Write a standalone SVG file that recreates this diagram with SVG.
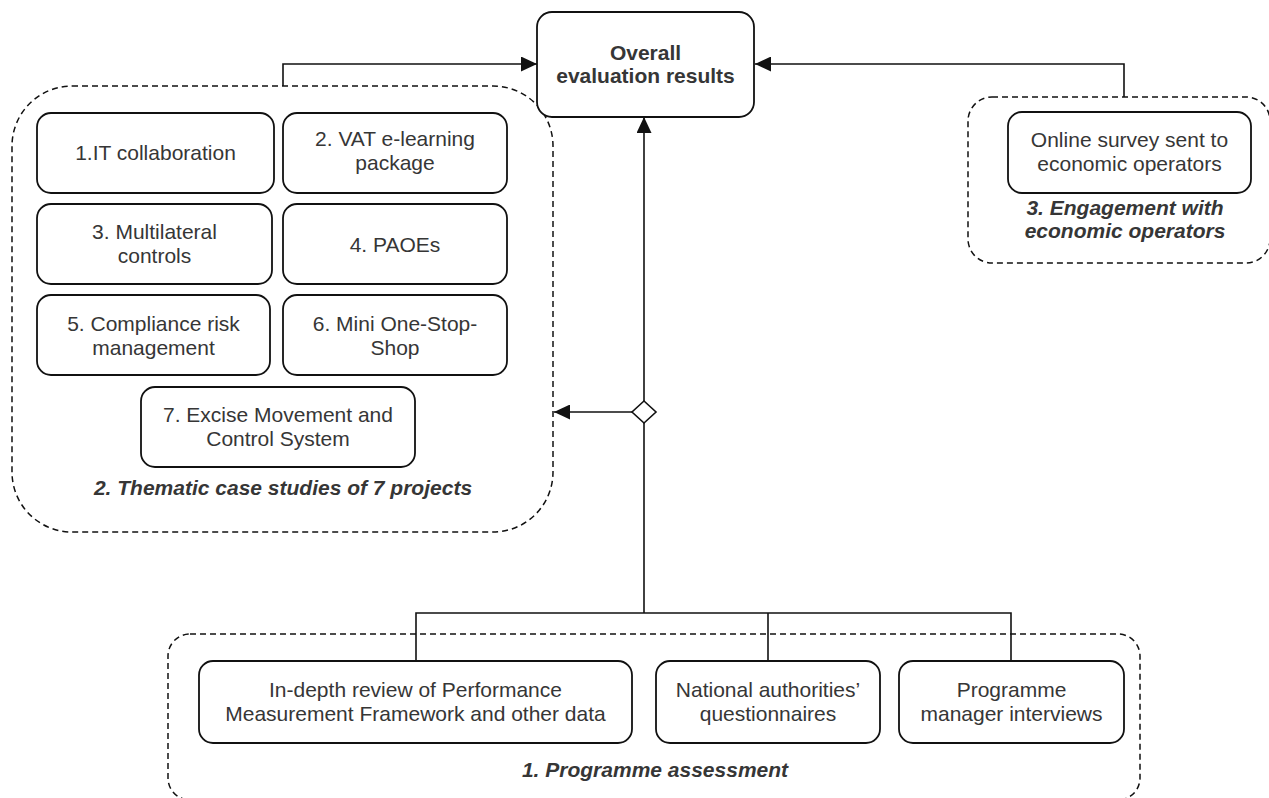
<svg xmlns="http://www.w3.org/2000/svg" width="1269" height="798" viewBox="0 0 1269 798">
<style>
.bg{fill:#ffffff}
.box{fill:#ffffff;stroke:#111111;stroke-width:1.8}
.grp{fill:none;stroke:#111111;stroke-width:1.5;stroke-dasharray:6 4}
.t{font-family:"Liberation Sans",Arial,sans-serif;font-size:21px;fill:#363636;text-anchor:middle}
.b{font-weight:bold}
.bi{font-weight:bold;font-style:italic}
.c{fill:none;stroke:#111111;stroke-width:1.6}
</style>
<defs>
<marker id="arr" markerUnits="userSpaceOnUse" markerWidth="16" markerHeight="15" refX="16" refY="7.5" orient="auto">
<path d="M0,0 L16,7.5 L0,15 z" fill="#111111"/>
</marker>
</defs>
<rect class="bg" x="0" y="0" width="1269" height="798"/>

<g id="group-thematic">
<rect class="grp" x="12" y="86" width="541" height="446" rx="60" ry="60"/>
<text class="t bi" x="283" y="495">2. Thematic case studies of 7 projects</text>
</g>
<g id="group-engagement">
<rect class="grp" x="968" y="97" width="302" height="166" rx="24" ry="24"/>
<text class="t bi" x="1125" y="215">3. Engagement with</text>
<text class="t bi" x="1125" y="238">economic operators</text>
</g>
<g id="group-programme">
<rect class="grp" x="168" y="634" width="972" height="166" rx="22" ry="22"/>
<text class="t bi" x="655" y="777">1. Programme assessment</text>
</g>

<g id="connectors">
<path class="c" d="M283,86 V64 H537" marker-end="url(#arr)"/>
<path class="c" d="M1124,97 V64 H755" marker-end="url(#arr)"/>
<path class="c" d="M644,613 V117" marker-end="url(#arr)"/>
<path class="c" d="M632,412 H554" marker-end="url(#arr)"/>
<path class="c" d="M416,661 V613 H1011 V661"/>
<path class="c" d="M768,613 V661"/>
<polygon points="644,401 656,412 644,423 632,412" fill="#ffffff" stroke="#111111" stroke-width="1.6"/>
</g>

<g id="overall">
<rect class="box" x="537" y="12" width="217" height="105" rx="15" ry="15"/>
<text class="t b" x="645.5" y="60">Overall</text>
<text class="t b" x="645.5" y="83">evaluation results</text>
</g>

<g id="p1">
<rect class="box" x="37" y="113" width="237" height="80" rx="14" ry="14"/>
<text class="t" x="155.5" y="160">1.IT collaboration</text>
</g>
<g id="p2">
<rect class="box" x="283" y="113" width="224" height="80" rx="14" ry="14"/>
<text class="t" x="395" y="146">2. VAT e-learning</text>
<text class="t" x="395" y="170">package</text>
</g>
<g id="p3">
<rect class="box" x="37" y="204" width="235" height="80" rx="14" ry="14"/>
<text class="t" x="154.5" y="239">3. Multilateral</text>
<text class="t" x="154.5" y="263">controls</text>
</g>
<g id="p4">
<rect class="box" x="283" y="204" width="224" height="80" rx="14" ry="14"/>
<text class="t" x="395" y="252">4. PAOEs</text>
</g>
<g id="p5">
<rect class="box" x="37" y="295" width="233" height="80" rx="14" ry="14"/>
<text class="t" x="153.5" y="331">5. Compliance risk</text>
<text class="t" x="153.5" y="355">management</text>
</g>
<g id="p6">
<rect class="box" x="283" y="295" width="224" height="80" rx="14" ry="14"/>
<text class="t" x="395" y="331">6. Mini One-Stop-</text>
<text class="t" x="395" y="355">Shop</text>
</g>
<g id="p7">
<rect class="box" x="141" y="387" width="274" height="80" rx="14" ry="14"/>
<text class="t" x="278" y="422">7. Excise Movement and</text>
<text class="t" x="278" y="446">Control System</text>
</g>

<g id="survey">
<rect class="box" x="1008" y="112" width="243" height="81" rx="14" ry="14"/>
<text class="t" x="1129.5" y="147">Online survey sent to</text>
<text class="t" x="1129.5" y="171">economic operators</text>
</g>

<g id="review">
<rect class="box" x="199" y="661" width="433" height="82" rx="14" ry="14"/>
<text class="t" x="415.5" y="697">In-depth review of Performance</text>
<text class="t" x="415.5" y="721">Measurement Framework and other data</text>
</g>
<g id="questionnaires">
<rect class="box" x="656" y="661" width="224" height="82" rx="14" ry="14"/>
<text class="t" x="768" y="697">National authorities’</text>
<text class="t" x="768" y="721">questionnaires</text>
</g>
<g id="interviews">
<rect class="box" x="899" y="661" width="225" height="82" rx="14" ry="14"/>
<text class="t" x="1011.5" y="697">Programme</text>
<text class="t" x="1011.5" y="721">manager interviews</text>
</g>
</svg>
